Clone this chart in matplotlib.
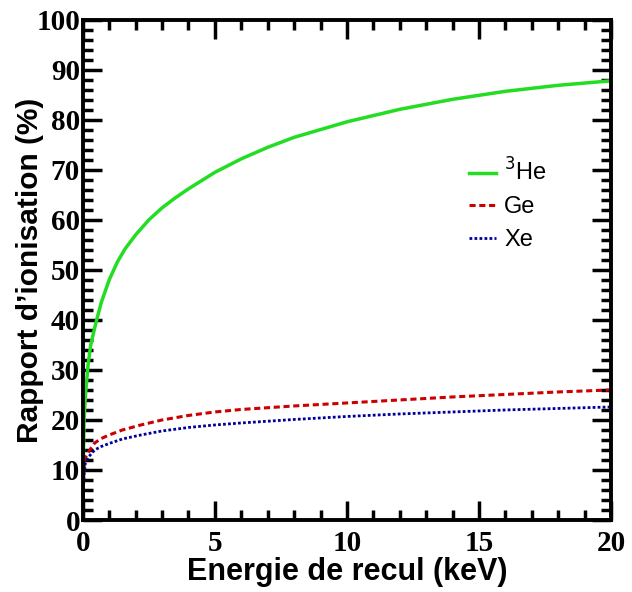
import numpy as np
import matplotlib
matplotlib.use("Agg")
import matplotlib.pyplot as plt
from matplotlib.ticker import MultipleLocator

# ─── data ─────────────────────────────────────────────────────────────────────
e_he = [0, 0.02, 0.05, 0.1, 0.2, 0.3, 0.5, 0.7, 1, 1.3, 1.6, 2, 2.5, 3, 3.5,
        4, 5, 6, 7, 8, 10, 12, 14, 16, 18, 20]
r_he = [0, 12, 20, 25, 31, 35, 39.5, 43.5, 48, 51.5, 54.2, 57, 60, 62.4, 64.4,
        66.2, 69.5, 72.2, 74.5, 76.5, 79.6, 82.1, 84.1, 85.7, 86.9, 87.8]

e_ge = [0, 0.02, 0.05, 0.1, 0.2, 0.45, 0.7, 1, 1.5, 2.2, 3, 4, 5, 6, 8, 10,
        12, 14, 16, 18, 20]
r_ge = [0, 7, 10.5, 12.5, 13.5, 15.4, 16.3, 17, 18, 19, 20, 20.9, 21.6, 22.1,
        22.8, 23.4, 24.0, 24.6, 25.1, 25.6, 26.0]

e_xe = [0, 0.02, 0.05, 0.1, 0.2, 0.45, 0.7, 1, 1.5, 2.2, 3, 4, 5, 6, 8, 10,
        12, 14, 16, 18, 20]
r_xe = [0, 6, 9, 11.5, 12.5, 14, 14.7, 15.3, 16.2, 17, 17.8, 18.5, 19.0, 19.4,
        20.1, 20.7, 21.2, 21.6, 22.0, 22.3, 22.6]

labels = [r'$^{3}$He', 'Ge', 'Xe']
# ──────────────────────────────────────────────────────────────────────────────

fig = plt.figure(figsize=(6.32, 5.92), dpi=100)
ax = fig.add_axes([0.131, 0.1216, 0.836, 0.845])

ax.plot(e_he, r_he, color='#22dd22', lw=2.5, ls='-', label=labels[0])
ax.plot(e_ge, r_ge, color='#cc0000', lw=2.2, ls=(0, (2, 1.2)), label=labels[1])
ax.plot(e_xe, r_xe, color='#000099', lw=2.0, ls=(0, (1, 0.8)), label=labels[2])

ax.set_xlim(0, 20)
ax.set_ylim(0, 100)
ax.xaxis.set_major_locator(MultipleLocator(5))
ax.xaxis.set_minor_locator(MultipleLocator(1))
ax.yaxis.set_major_locator(MultipleLocator(10))
ax.yaxis.set_minor_locator(MultipleLocator(2))

ax.tick_params(which='both', direction='in', top=True, right=True, width=2.5)
ax.tick_params(which='major', length=14)
ax.tick_params(which='minor', length=7)
ax.tick_params(axis='x', pad=7)
ax.tick_params(axis='y', pad=2)
for s in ax.spines.values():
    s.set_linewidth(2.8)

for lab in ax.get_xticklabels() + ax.get_yticklabels():
    lab.set_family('Liberation Serif')
    lab.set_fontweight('bold')
    lab.set_fontsize(21)

ax.set_xlabel('Energie de recul (keV)', family='Liberation Sans',
              fontweight='bold', fontsize=22)
ax.xaxis.set_label_coords(0.5, -0.074)
ax.set_ylabel("Rapport d\u2019ionisation (%)", family='Liberation Sans',
              fontweight='bold', fontsize=21.5)
ax.yaxis.set_label_coords(-0.074, 0.5)

leg = ax.legend(loc='upper left', bbox_to_anchor=(0.69, 0.765), frameon=False,
                prop={'family': 'Liberation Sans', 'size': 17},
                handlelength=1.15, handletextpad=0.35, labelspacing=0.45)

fig.savefig('out.png', dpi=100)
